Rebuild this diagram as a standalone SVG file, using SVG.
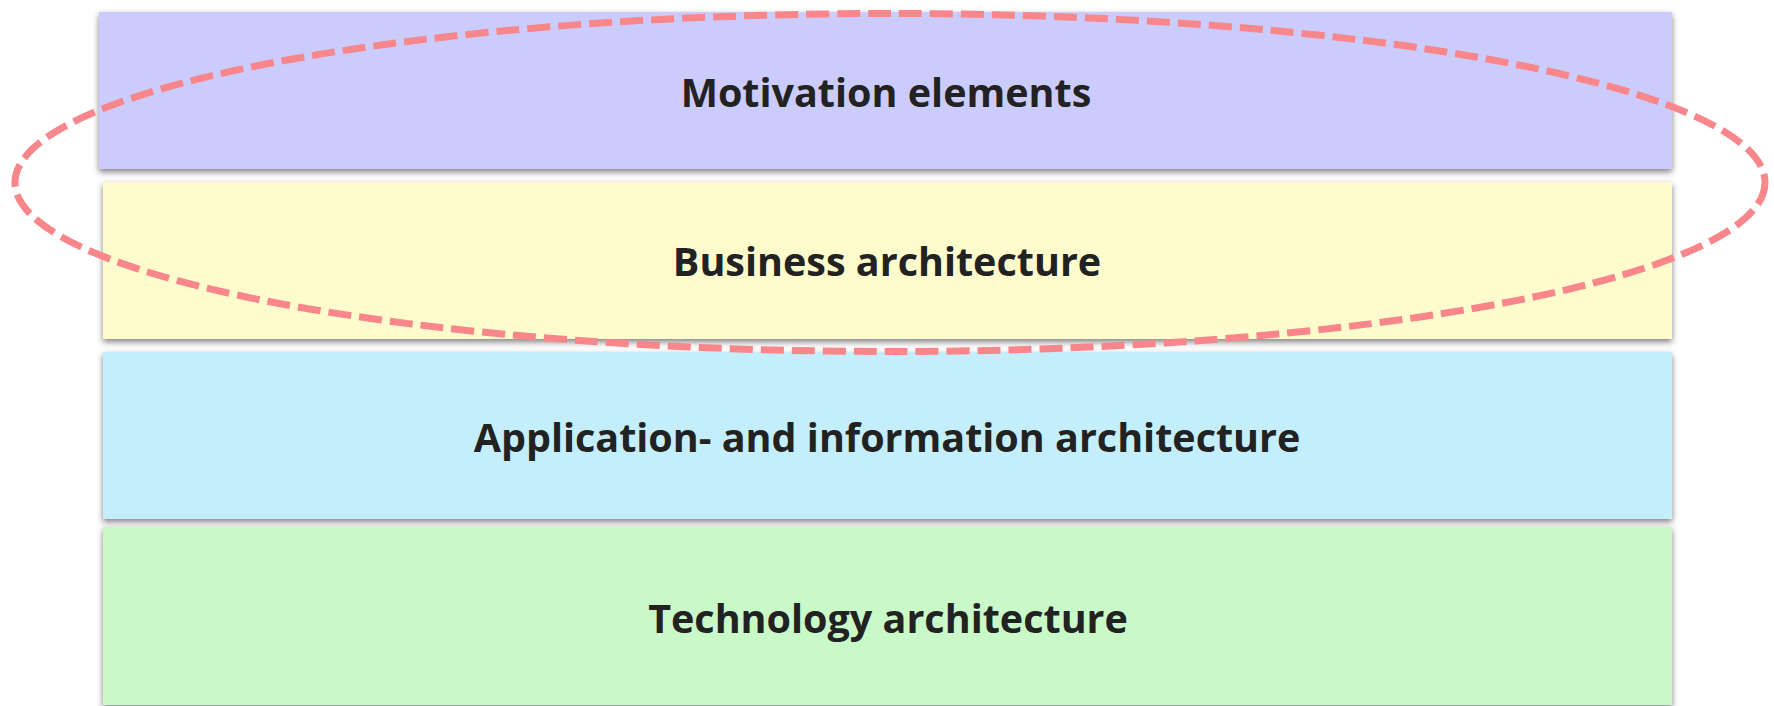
<svg xmlns="http://www.w3.org/2000/svg" width="1774" height="706" viewBox="0 0 1774 706">
<style>
.box{filter:url(#sh);}
.lbl{font-family:"Open Sans","Liberation Sans",sans-serif;font-weight:bold;font-size:39.5px;fill:#222222;text-anchor:middle;}
.ring{fill:none;stroke:#f8868a;stroke-width:7;stroke-dasharray:23 8;}
</style>
<defs>
<filter id="sh" x="-5%" y="-20%" width="110%" height="140%">
<feDropShadow dx="0" dy="3" stdDeviation="3" flood-color="#000" flood-opacity="0.5"/>
</filter>
</defs>
<rect width="1774" height="706" fill="#ffffff"/>
<g id="motivation">
<rect class="box" x="99" y="12" width="1573" height="157" fill="#ccccfc"/>
<text class="lbl" x="886" y="107">Motivation elements</text>
</g>
<g id="business">
<rect class="box" x="103" y="182" width="1569" height="157" fill="#fefbcd"/>
<text class="lbl" x="887" y="276">Business architecture</text>
</g>
<g id="application">
<rect class="box" x="103" y="352" width="1569" height="167" fill="#c5eefc"/>
<text class="lbl" x="887" y="452">Application- and information architecture</text>
</g>
<g id="technology">
<rect class="box" x="103" y="527" width="1569" height="178" fill="#c9f8c9"/>
<text class="lbl" x="888" y="633">Technology architecture</text>
</g>
<g id="connectors">
<ellipse class="ring" cx="890" cy="182.5" rx="875" ry="169"/>
</g>
</svg>
